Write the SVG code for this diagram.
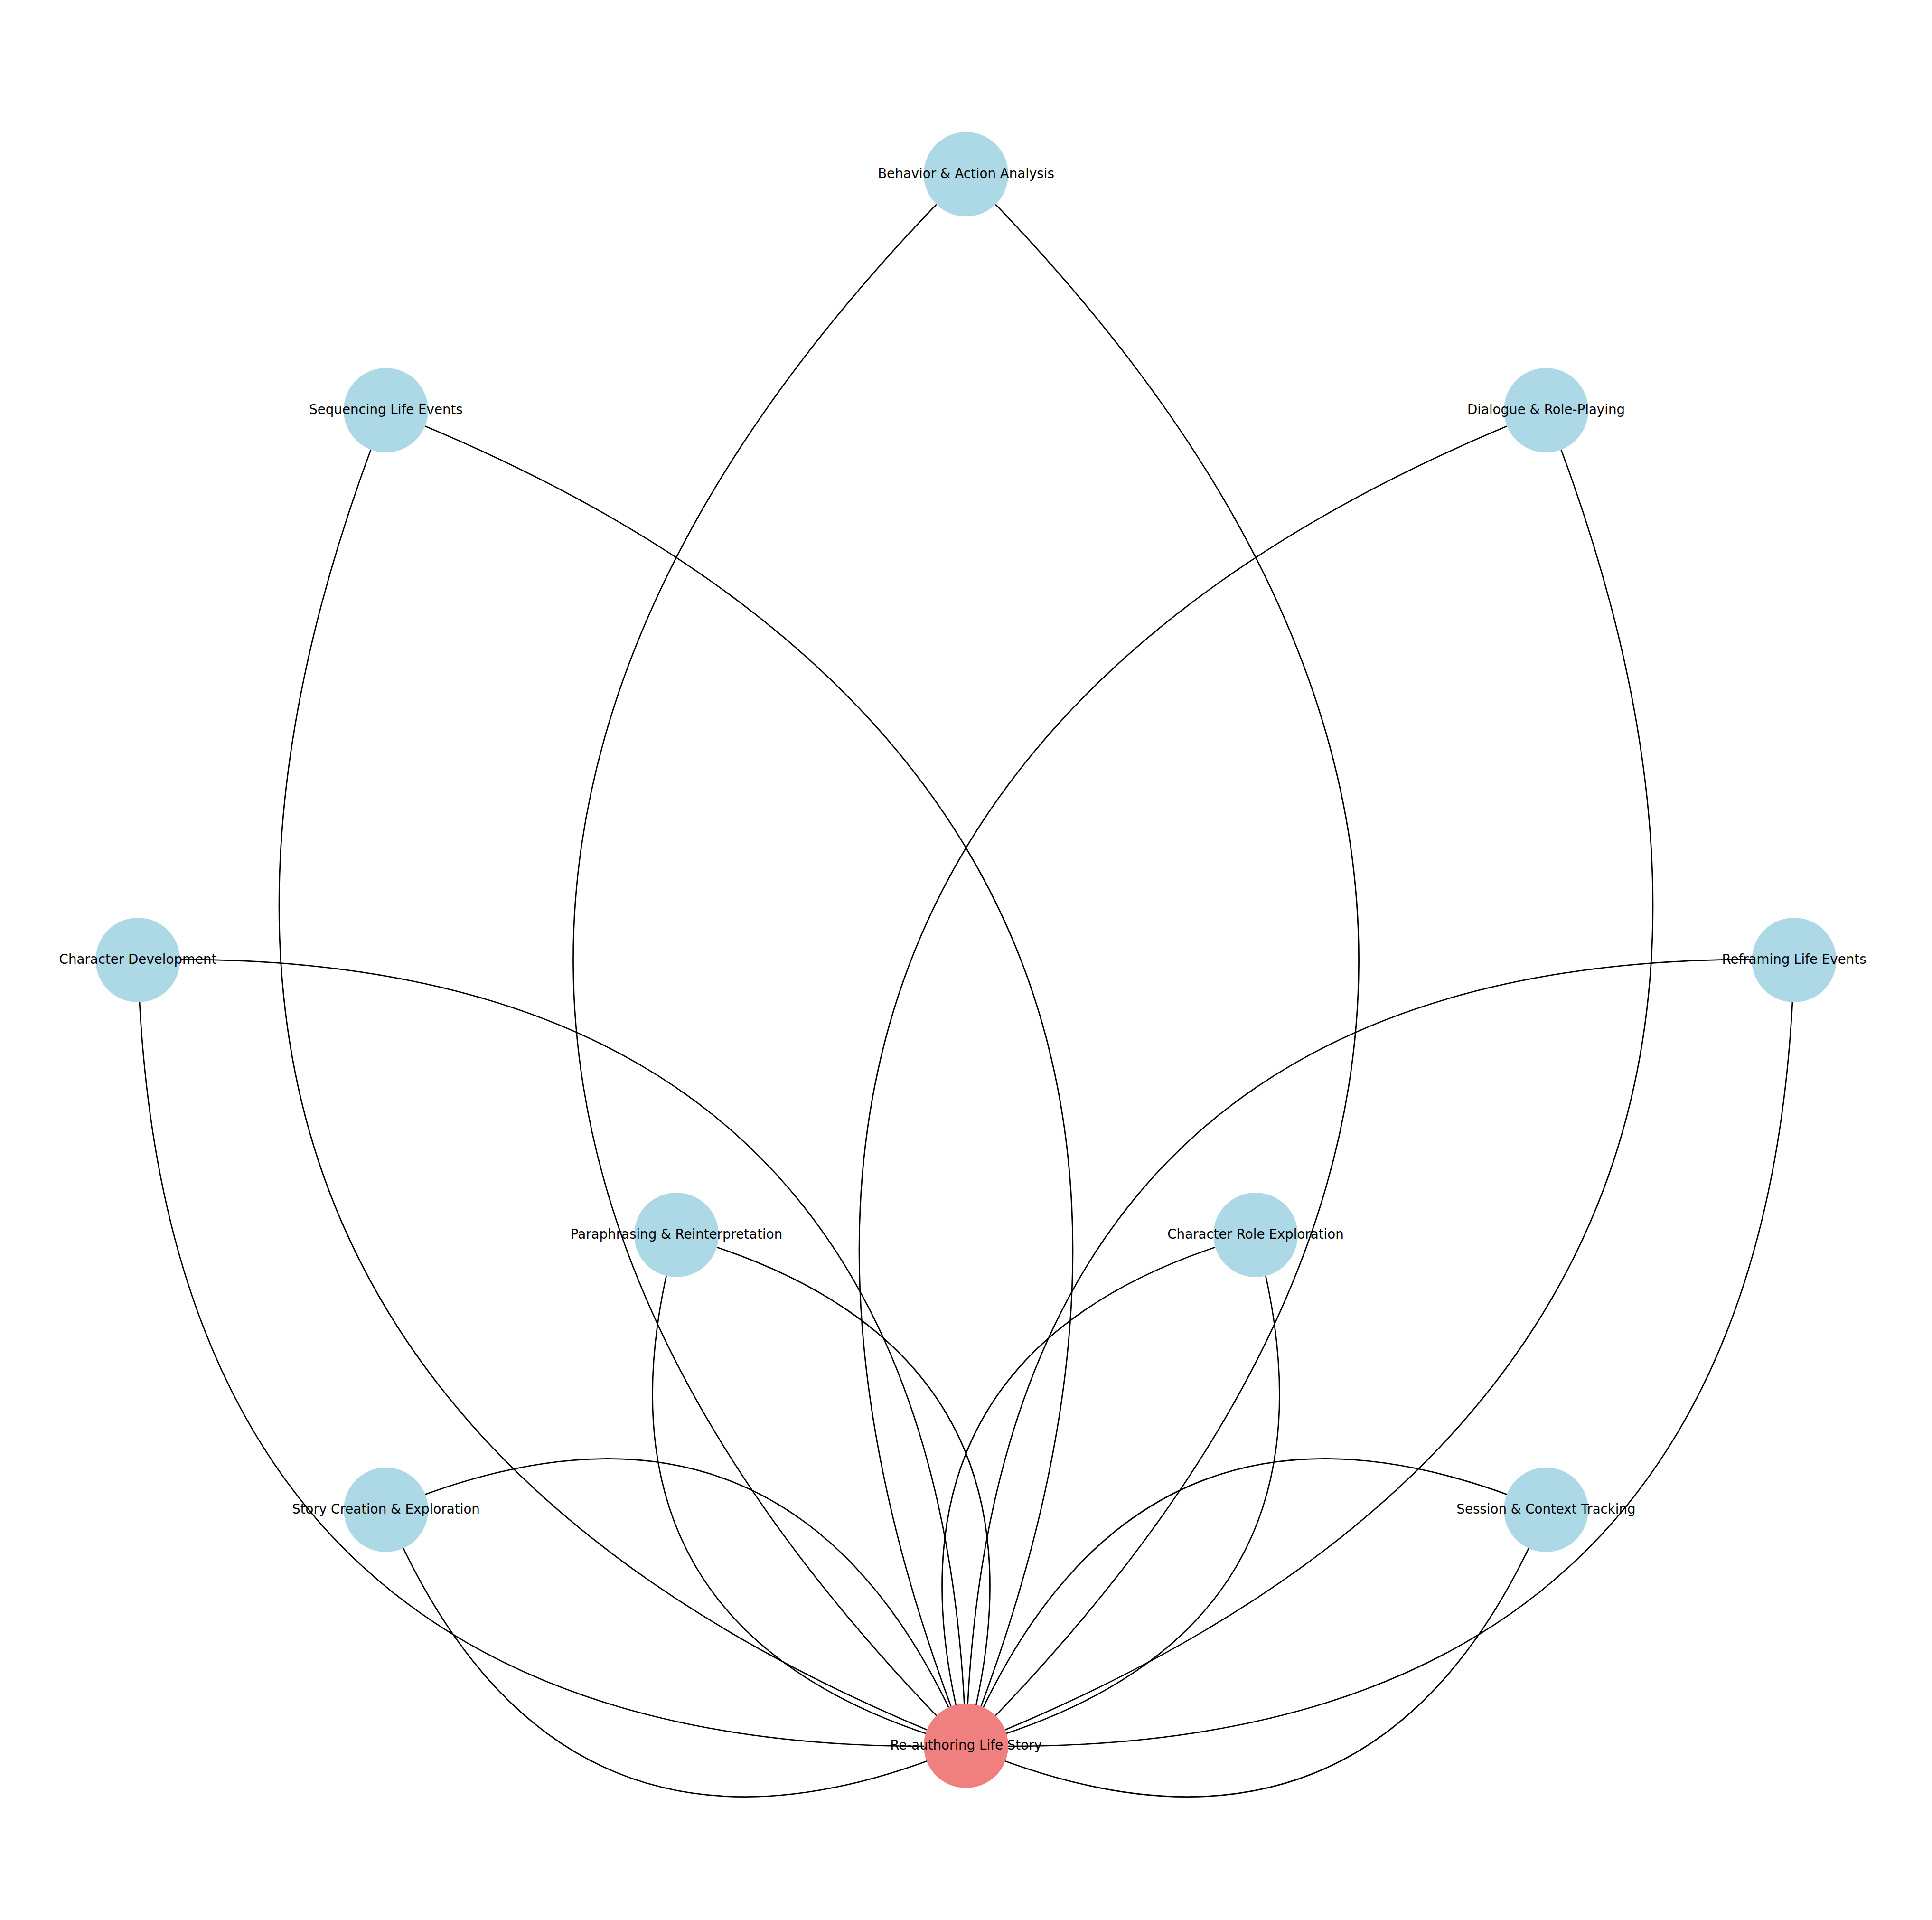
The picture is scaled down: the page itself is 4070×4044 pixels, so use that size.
<svg xmlns="http://www.w3.org/2000/svg" width="4070" height="4044" viewBox="0 0 4070 4044">
<style>
.edge{fill:none;stroke:#000;stroke-width:2.7}
.node{fill:#ADD8E6}
.hub{fill:#F08080}
.lbl{font-family:"DejaVu Sans",sans-serif;font-size:27.7px;fill:#000;text-anchor:middle}
</style>
<rect width="4070" height="4044" fill="#fff"/>
<g id="connectors">
<path class="edge" d="M2035,367 Q3690,2022 2035,3677"/>
<path class="edge" d="M2035,367 Q380,2022 2035,3677"/>
<path class="edge" d="M813,864 Q2830.5,1659.5 2035,3677"/>
<path class="edge" d="M813,864 Q17.5,2881.5 2035,3677"/>
<path class="edge" d="M3257,864 Q4052.5,2881.5 2035,3677"/>
<path class="edge" d="M3257,864 Q1239.5,1659.5 2035,3677"/>
<path class="edge" d="M290.5,2022 Q1990.25,1977.25 2035,3677"/>
<path class="edge" d="M290.5,2022 Q335.25,3721.75 2035,3677"/>
<path class="edge" d="M3779.5,2022 Q3734.75,3721.75 2035,3677"/>
<path class="edge" d="M3779.5,2022 Q2079.75,1977.25 2035,3677"/>
<path class="edge" d="M1425,2601 Q2268,2834 2035,3677"/>
<path class="edge" d="M1425,2601 Q1192,3444 2035,3677"/>
<path class="edge" d="M2645,2601 Q2878,3444 2035,3677"/>
<path class="edge" d="M2645,2601 Q1802,2834 2035,3677"/>
<path class="edge" d="M813,3180 Q1672.5,2817.5 2035,3677"/>
<path class="edge" d="M813,3180 Q1175.5,4039.5 2035,3677"/>
<path class="edge" d="M3257,3180 Q2894.5,4039.5 2035,3677"/>
<path class="edge" d="M3257,3180 Q2397.5,2817.5 2035,3677"/>
</g>
<g id="behavior"><circle class="node" cx="2035" cy="367" r="89"/><text class="lbl" x="2035" y="375">Behavior &amp; Action Analysis</text></g>
<g id="sequencing"><circle class="node" cx="813" cy="864" r="89"/><text class="lbl" x="813" y="872">Sequencing Life Events</text></g>
<g id="dialogue"><circle class="node" cx="3257" cy="864" r="89"/><text class="lbl" x="3257" y="872">Dialogue &amp; Role-Playing</text></g>
<g id="character-development"><circle class="node" cx="290.5" cy="2022" r="89"/><text class="lbl" x="290.5" y="2030">Character Development</text></g>
<g id="reframing"><circle class="node" cx="3779.5" cy="2022" r="89"/><text class="lbl" x="3779.5" y="2030">Reframing Life Events</text></g>
<g id="paraphrasing"><circle class="node" cx="1425" cy="2601" r="89"/><text class="lbl" x="1425" y="2609">Paraphrasing &amp; Reinterpretation</text></g>
<g id="character-role"><circle class="node" cx="2645" cy="2601" r="89"/><text class="lbl" x="2645" y="2609">Character Role Exploration</text></g>
<g id="story-creation"><circle class="node" cx="813" cy="3180" r="89"/><text class="lbl" x="813" y="3188">Story Creation &amp; Exploration</text></g>
<g id="session-tracking"><circle class="node" cx="3257" cy="3180" r="89"/><text class="lbl" x="3257" y="3188">Session &amp; Context Tracking</text></g>
<g id="re-authoring"><circle class="hub" cx="2035" cy="3677" r="89"/><text class="lbl" x="2035" y="3685">Re-authoring Life Story</text></g>
</svg>
